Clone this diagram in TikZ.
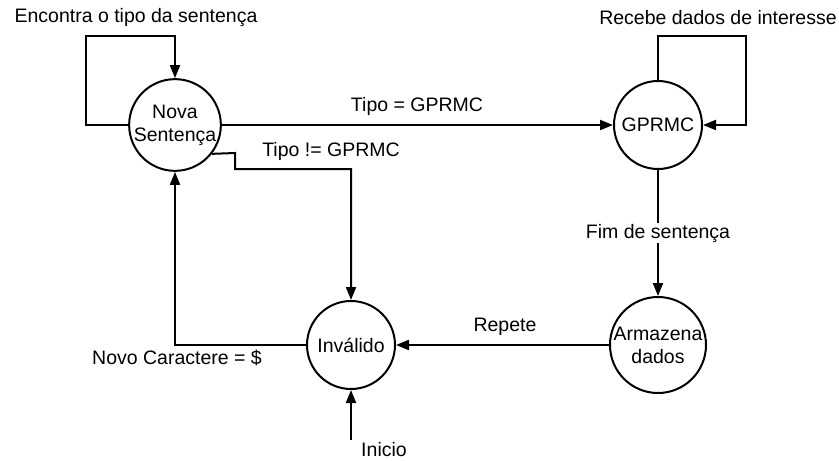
\documentclass[tikz,border=0pt]{standalone}
\usepackage{fontspec}
\setmainfont{Liberation Sans}
\usetikzlibrary{arrows.meta}
\begin{document}
\begin{tikzpicture}[x=1pt,y=-1pt,
  state/.style={circle,draw,line width=2pt,minimum size=88pt,inner sep=0pt,align=center,font=\fontsize{19.5}{23}\selectfont},
  edge/.style={line width=2pt,-{Triangle[length=13pt,width=10pt]}},
  lbl/.style={font=\fontsize{19.5}{23}\selectfont,inner sep=1pt}]
\useasboundingbox (0,0) rectangle (839,461);

\node[state] (nova) at (175,125) {Nova\\Sentença};
\node[state] (gprmc) at (658,125) {GPRMC};
\node[state] (inv) at (351,345) {Inválido};
\node[state] (arm) at (658,345) {Armazena\\dados};
\coordinate (ini) at (351,440);

% self loop on Nova Sentença
\draw[edge] (nova.west) -- (86,125) -- (86,36) -- (175,36) -- (nova.north);
\node[lbl] (l1) at (136,17) {Encontra o tipo da sentença};

% Nova Sentença -> GPRMC
\draw[edge] (nova.east) -- (gprmc.west);
\node[lbl] (l2) at (417,106) {Tipo = GPRMC};

% Nova Sentença -> Inválido
\draw[edge] (nova.-38) -- (235,153) -- (235,169) -- (351,169) -- (inv.north);
\node[lbl] (l3) at (331,151) {Tipo != GPRMC};

% Inválido -> Nova Sentença
\draw[edge] (inv.west) -- (175,345) -- (nova.south);
\node[lbl] (l4) at (177,358) {Novo Caractere = \$};

% initial arrow
\draw[edge] (ini) -- (inv.south);
\node[lbl] (l5) at (384,450) {Inicio};

% self loop on GPRMC
\draw[edge] (gprmc.north) -- (658,36) -- (746,36) -- (746,125) -- (gprmc.east);
\node[lbl] (l6) at (718,18) {Recebe dados de interesse};

% GPRMC -> Armazena dados
\draw[edge] (gprmc.south) -- node[lbl,fill=white] (l7) {Fim de sentença} (arm.north);

% Armazena dados -> Inválido
\draw[edge] (arm.west) -- (inv.east);
\node[lbl] (l8) at (505,327) {Repete};
\end{tikzpicture}
\end{document}
